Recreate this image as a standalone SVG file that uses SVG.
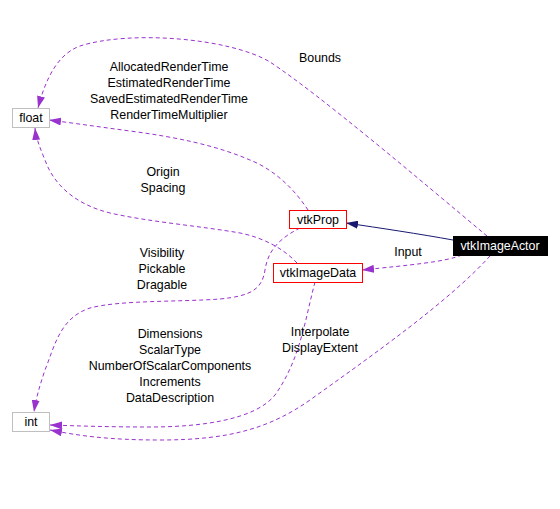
<svg xmlns="http://www.w3.org/2000/svg" width="560" height="509" viewBox="0 0 560 509">
<style>
text{font-family:"Liberation Sans",Arial,sans-serif;font-size:12.4px;fill:#000;text-anchor:middle}
.nb{fill:#fff;stroke:#bfbfbf;stroke-width:1}
.nr{fill:#fff;stroke:#ff0000;stroke-width:1}
.e{fill:none;stroke:#9a32cd;stroke-width:1;stroke-dasharray:4,3;marker-end:url(#ap)}
.s{fill:none;stroke:#191970;stroke-width:1;marker-end:url(#an)}
</style>
<defs>
<marker id="ap" viewBox="0 0 12 8" refX="12" refY="4" markerWidth="12" markerHeight="8" markerUnits="userSpaceOnUse" orient="auto"><path d="M0,0 L12,4 L0,8 z" fill="#9a32cd"/></marker>
<marker id="an" viewBox="0 0 12 8" refX="12" refY="4" markerWidth="12" markerHeight="8" markerUnits="userSpaceOnUse" orient="auto"><path d="M0,0 L12,4 L0,8 z" fill="#191970"/></marker>
</defs>
<rect width="560" height="509" fill="#fff"/>
<g id="connectors">
<path class="s" d="M453,240 C420,234 380,228 346,223"/>
<path class="e" d="M462,255 C445,262 410,265 362,270"/>
<path class="e" d="M487,236 C420,180 320,95 270,62 C230,38 130,30 80,46 C55,55 44,85 38,108"/>
<path class="e" d="M308,210 C295,190 275,170 250,160 C215,145 175,137 130,131 C100,127 80,124 49,120"/>
<path class="e" d="M297,263 C285,250 265,238 240,233 C200,226 150,222 110,213 C70,203 52,180 45,160 C40,148 36,138 35,128"/>
<path class="e" d="M300,228 C280,238 268,250 265,270 C262,290 250,296 220,299 C180,302 120,300 90,308 C60,318 55,345 45,370 C40,385 36,398 34,412"/>
<path class="e" d="M315,282 C305,320 300,360 275,395 C255,420 200,427 150,427 C110,427 80,426 50,425"/>
<path class="e" d="M490,256 C450,300 380,350 310,400 C270,428 230,440 160,440 C110,440 80,436 50,430"/>
<g id="labels">
<text x="320" y="62">Bounds</text>
<text x="169" y="71">AllocatedRenderTime</text>
<text x="169" y="87">EstimatedRenderTime</text>
<text x="169" y="103">SavedEstimatedRenderTime</text>
<text x="169" y="119">RenderTimeMultiplier</text>
<text x="163" y="176">Origin</text>
<text x="163" y="192">Spacing</text>
<text x="162" y="257">Visibility</text>
<text x="162" y="273">Pickable</text>
<text x="162" y="289">Dragable</text>
<text x="408" y="256">Input</text>
<text x="170" y="338">Dimensions</text>
<text x="170" y="354">ScalarType</text>
<text x="170" y="370">NumberOfScalarComponents</text>
<text x="170" y="386">Increments</text>
<text x="170" y="402">DataDescription</text>
<text x="320" y="336">Interpolate</text>
<text x="320" y="352">DisplayExtent</text>
</g>
</g>
<g id="vtkImageActor"><rect x="453.5" y="236.5" width="94" height="19" fill="#000" stroke="#000"/><text x="500" y="250" style="fill:#fff">vtkImageActor</text></g>
<g id="vtkProp"><rect class="nr" x="289.5" y="210.5" width="57" height="18"/><text x="318" y="224">vtkProp</text></g>
<g id="vtkImageData"><rect class="nr" x="273.5" y="263.5" width="89" height="19"/><text x="318" y="277">vtkImageData</text></g>
<g id="float"><rect class="nb" x="12.5" y="108.5" width="37" height="19"/><text x="31" y="122">float</text></g>
<g id="int"><rect class="nb" x="12.5" y="412.5" width="37" height="19"/><text x="31" y="426">int</text></g>
</svg>
